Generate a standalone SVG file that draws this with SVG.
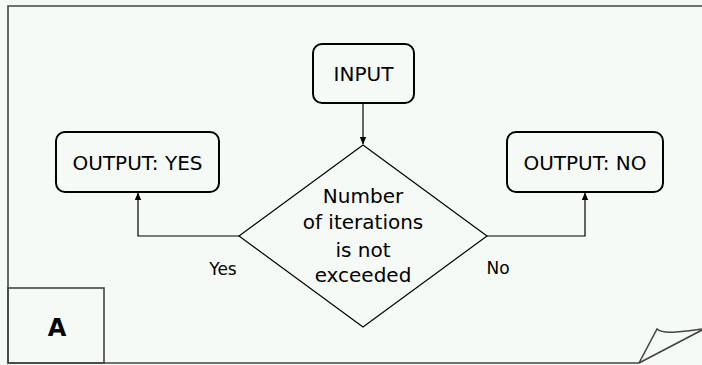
<svg xmlns="http://www.w3.org/2000/svg" width="702" height="365" viewBox="0 0 702 365">
  <style>
    .node { fill: none; stroke: #000; stroke-width: 2; }
    .frame { fill: none; stroke: #444; stroke-width: 1.6; }
    .edge { fill: none; stroke: #000; stroke-width: 1.2; }
    .lbl { font-family: "DejaVu Sans", Verdana, sans-serif; font-size: 20px; fill: #000; text-anchor: middle; }
    .small { font-size: 17px; }
  </style>
  <defs>
    <marker id="arrow" markerWidth="8" markerHeight="8" refX="7" refY="4" orient="auto" markerUnits="userSpaceOnUse">
      <path d="M0,0.8 L7.5,4 L0,7.2 Z" fill="#000"/>
    </marker>
  </defs>

  <rect width="702" height="365" fill="#f6faf7"/>

  <!-- sheet frame with folded corner -->
  <g id="frame">
    <path class="frame" d="M704,6 L8,6 L8,363 L639,363"/>
    <path class="frame" d="M639,363 L657,329 Q661,333 676,332 Q690,331 702,329 M639,363 L702,330"/>
  </g>

  <!-- corner tag -->
  <g id="tag">
    <rect class="frame" x="8" y="288" width="96" height="75"/>
    <text x="57" y="336" font-family="'DejaVu Sans', Verdana, sans-serif" font-weight="bold" font-size="24" text-anchor="middle">A</text>
  </g>

  <g id="connectors">
    <path class="edge" d="M363,103 L363,144" marker-end="url(#arrow)"/>
    <path class="edge" d="M239,236 L138,236 L138,193" marker-end="url(#arrow)"/>
    <path class="edge" d="M487,236 L585,236 L585,193" marker-end="url(#arrow)"/>
    <text class="lbl small" x="223" y="275">Yes</text>
    <text class="lbl small" x="498" y="274">No</text>
  </g>

  <g id="input">
    <rect class="node" x="313" y="44" width="101" height="59" rx="9"/>
    <text class="lbl" x="363.5" y="81">INPUT</text>
  </g>

  <g id="decision">
    <path d="M363,145 L487,236 L363,327 L239,236 Z" fill="none" stroke="#000" stroke-width="1.2"/>
    <text class="lbl" x="363" y="203">Number</text>
    <text class="lbl" x="363" y="229">of iterations</text>
    <text class="lbl" x="363" y="257">is not</text>
    <text class="lbl" x="363" y="282">exceeded</text>
  </g>

  <g id="output-yes">
    <rect class="node" x="56" y="132" width="163" height="60" rx="9"/>
    <text class="lbl" x="137.5" y="170">OUTPUT: YES</text>
  </g>

  <g id="output-no">
    <rect class="node" x="507" y="132" width="156" height="60" rx="9"/>
    <text class="lbl" x="585" y="170">OUTPUT: NO</text>
  </g>
</svg>
